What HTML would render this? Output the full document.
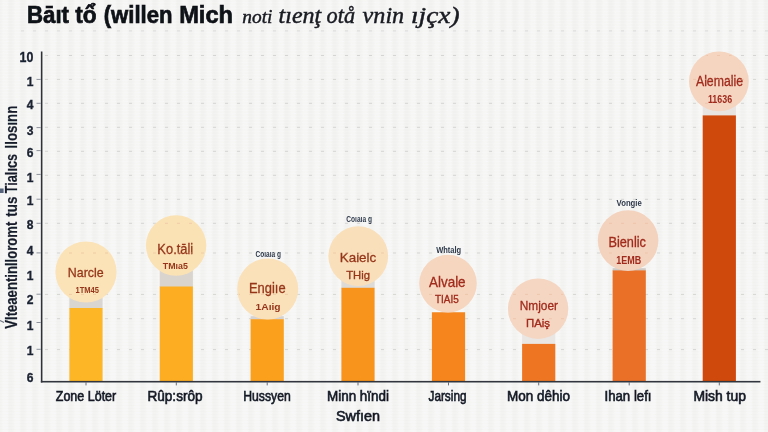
<!DOCTYPE html>
<html><head><meta charset="utf-8"><title>chart</title>
<style>
html,body{margin:0;padding:0;}
body{width:768px;height:432px;overflow:hidden;background:#f4f4f3;font-family:"Liberation Sans",sans-serif;}
#bg{position:absolute;left:0;top:0;width:768px;height:432px;
background:
repeating-linear-gradient(90deg, rgba(0,0,0,0.008) 0px, rgba(0,0,0,0.008) 2.5px, rgba(255,255,255,0.24) 6px, rgba(255,255,255,0.24) 9.5px, rgba(0,0,0,0.008) 12px),
repeating-linear-gradient(0deg, rgba(255,255,255,0.12) 0px, rgba(255,255,255,0.12) 1.5px, rgba(0,0,0,0.004) 1.5px, rgba(0,0,0,0.004) 3px),
#f4f4f3;background-position:9.25px 0,0 0,0 0;}
svg{position:absolute;left:0;top:0;}
text{font-family:"Liberation Sans",sans-serif;}
.ser{font-family:"Liberation Serif",serif;font-style:italic;}
</style></head><body><div id="bg"></div>
<svg width="768" height="432" viewBox="0 0 768 432">
<defs><filter id="soft" x="-5%" y="-5%" width="110%" height="110%"><feGaussianBlur stdDeviation="0.5"/></filter></defs>
<g filter="url(#soft)">
<line x1="21" y1="30.9" x2="768" y2="30.9" stroke="#dcdcda" stroke-width="1" stroke-dasharray="3 9"/>
<line x1="45" y1="55.5" x2="768" y2="55.5" stroke="#d5d5d3" stroke-width="1" stroke-dasharray="3 9"/>
<line x1="45" y1="79.4" x2="768" y2="79.4" stroke="#d5d5d3" stroke-width="1" stroke-dasharray="3 9"/>
<line x1="45" y1="103.3" x2="768" y2="103.3" stroke="#d5d5d3" stroke-width="1" stroke-dasharray="3 9"/>
<line x1="45" y1="127.3" x2="768" y2="127.3" stroke="#d5d5d3" stroke-width="1" stroke-dasharray="3 9"/>
<line x1="45" y1="151.3" x2="768" y2="151.3" stroke="#d5d5d3" stroke-width="1" stroke-dasharray="3 9"/>
<line x1="45" y1="175.3" x2="768" y2="175.3" stroke="#d5d5d3" stroke-width="1" stroke-dasharray="3 9"/>
<line x1="45" y1="199.3" x2="768" y2="199.3" stroke="#d5d5d3" stroke-width="1" stroke-dasharray="3 9"/>
<line x1="45" y1="223.3" x2="768" y2="223.3" stroke="#d5d5d3" stroke-width="1" stroke-dasharray="3 9"/>
<line x1="45" y1="253" x2="768" y2="253" stroke="#d5d5d3" stroke-width="1" stroke-dasharray="3 9"/>
<line x1="45" y1="294.4" x2="768" y2="294.4" stroke="#d5d5d3" stroke-width="1" stroke-dasharray="3 9"/>
<line x1="45" y1="318.7" x2="768" y2="318.7" stroke="#d5d5d3" stroke-width="1" stroke-dasharray="3 9"/>
<line x1="45" y1="349.6" x2="768" y2="349.6" stroke="#d5d5d3" stroke-width="1" stroke-dasharray="3 9"/>
<rect x="69.40" y="272.00" width="33.2" height="36.50" fill="#d9d5d0"/>
<rect x="69.40" y="308.00" width="33.2" height="73.80" fill="#fdb726"/>
<rect x="159.70" y="245.50" width="33.2" height="41.50" fill="#d9d4ce"/>
<rect x="159.70" y="286.50" width="33.2" height="95.30" fill="#fcad20"/>
<rect x="250.60" y="316.20" width="33.2" height="3.50" fill="#d6d2cf"/>
<rect x="250.60" y="319.20" width="33.2" height="62.60" fill="#fba01d"/>
<rect x="341.40" y="256.10" width="33.2" height="32.20" fill="#dedad5"/>
<rect x="341.40" y="287.80" width="33.2" height="94.00" fill="#f8931c"/>
<rect x="431.90" y="312.30" width="33.2" height="0.50" fill="#e4d0c4"/>
<rect x="431.90" y="312.30" width="33.2" height="69.50" fill="#f5851b"/>
<rect x="522.10" y="308.70" width="33.2" height="35.70" fill="#e9e6e3"/>
<rect x="522.10" y="343.90" width="33.2" height="37.90" fill="#ee7623"/>
<rect x="612.60" y="268.20" width="33.2" height="2.70" fill="#cfcac5"/>
<rect x="612.60" y="270.40" width="33.2" height="111.40" fill="#e96f27"/>
<rect x="702.70" y="81.40" width="33.2" height="34.50" fill="#e7e4e1"/>
<rect x="702.70" y="115.40" width="33.2" height="266.40" fill="#cf4a0a"/>
<rect x="40.85" y="51.5" width="1.6" height="331.00" fill="#2e3138"/>
<rect x="40.85" y="380.90" width="719.6" height="1.6" fill="#33363c"/>
<rect x="85.50" y="382.00" width="1" height="3.4" fill="#6a6f7a"/>
<rect x="175.80" y="382.00" width="1" height="3.4" fill="#6a6f7a"/>
<rect x="266.70" y="382.00" width="1" height="3.4" fill="#6a6f7a"/>
<rect x="357.50" y="382.00" width="1" height="3.4" fill="#6a6f7a"/>
<rect x="448.00" y="382.00" width="1" height="3.4" fill="#6a6f7a"/>
<rect x="538.20" y="382.00" width="1" height="3.4" fill="#6a6f7a"/>
<rect x="628.70" y="382.00" width="1" height="3.4" fill="#6a6f7a"/>
<rect x="718.80" y="382.00" width="1" height="3.4" fill="#6a6f7a"/>
<rect x="36.5" y="78.90" width="4.3" height="1" fill="#8e929c"/>
<rect x="36.5" y="102.80" width="4.3" height="1" fill="#8e929c"/>
<rect x="36.5" y="127.10" width="4.3" height="1" fill="#8e929c"/>
<rect x="36.5" y="150.10" width="4.3" height="1" fill="#8e929c"/>
<rect x="36.5" y="173.90" width="4.3" height="1" fill="#8e929c"/>
<rect x="36.5" y="198.70" width="4.3" height="1" fill="#8e929c"/>
<rect x="36.5" y="222.80" width="4.3" height="1" fill="#8e929c"/>
<rect x="36.5" y="252.40" width="4.3" height="1" fill="#8e929c"/>
<rect x="36.5" y="293.70" width="4.3" height="1" fill="#8e929c"/>
<rect x="36.5" y="322.00" width="4.3" height="1" fill="#8e929c"/>
<rect x="36.5" y="348.80" width="4.3" height="1" fill="#8e929c"/>
<circle cx="86.0" cy="272" r="30.6" fill="#fbe3b7"/>
<text x="85.7" y="277.0" text-anchor="middle" font-size="13.2" fill="#96361a" stroke="#96361a" stroke-width="0.3" textLength="35.8" lengthAdjust="spacingAndGlyphs">Narcle</text>
<text x="87.2" y="292.8" text-anchor="middle" font-size="9.6" font-weight="bold" fill="#96361a" textLength="23.5" lengthAdjust="spacingAndGlyphs">1TM45</text>
<circle cx="176.1" cy="245.5" r="30.2" fill="#fbe2b5"/>
<text x="175.3" y="253.8" text-anchor="middle" font-size="14.5" fill="#96361a" stroke="#96361a" stroke-width="0.3" textLength="35.9" lengthAdjust="spacingAndGlyphs">Ko.tāli</text>
<text x="175.3" y="269.4" text-anchor="middle" font-size="9.7" font-weight="bold" fill="#96361a" textLength="25" lengthAdjust="spacingAndGlyphs">TMıa5</text>
<circle cx="267.7" cy="289" r="30.5" fill="#fae1b9"/>
<text x="267.3" y="293.0" text-anchor="middle" font-size="13.8" fill="#96361a" stroke="#96361a" stroke-width="0.3" textLength="36.6" lengthAdjust="spacingAndGlyphs">Engiıe</text>
<text x="268.1" y="310.0" text-anchor="middle" font-size="9.6" font-weight="bold" fill="#96361a" textLength="25" lengthAdjust="spacingAndGlyphs">1Aıig</text>
<text x="268.3" y="257.2" text-anchor="middle" font-size="8.2" font-weight="bold" fill="#2f3a4a" textLength="25.4" lengthAdjust="spacingAndGlyphs">Coıaıa g</text>
<circle cx="358.25" cy="256.1" r="29.9" fill="#f9e0bb"/>
<text x="358.0" y="261.5" text-anchor="middle" font-size="13.5" fill="#96361a" stroke="#96361a" stroke-width="0.3" textLength="36.5" lengthAdjust="spacingAndGlyphs">Kaielc</text>
<text x="358.1" y="278.8" text-anchor="middle" font-size="11" fill="#96361a" stroke="#96361a" stroke-width="0.35" textLength="23.7" lengthAdjust="spacingAndGlyphs">THig</text>
<text x="359.1" y="221.8" text-anchor="middle" font-size="8.5" font-weight="bold" fill="#2f3a4a" textLength="25.6" lengthAdjust="spacingAndGlyphs">Coıaıa g</text>
<circle cx="448.0" cy="283.6" r="28.8" fill="#f6d6bf"/>
<text x="447.3" y="287.3" text-anchor="middle" font-size="14.2" fill="#a02a1c" stroke="#a02a1c" stroke-width="0.3" textLength="36.6" lengthAdjust="spacingAndGlyphs">Alvale</text>
<text x="446.9" y="303.1" text-anchor="middle" font-size="10.8" fill="#a02a1c" stroke="#a02a1c" stroke-width="0.35" textLength="23.7" lengthAdjust="spacingAndGlyphs">TIAI5</text>
<text x="448.7" y="253.2" text-anchor="middle" font-size="8.8" font-weight="bold" fill="#2f3a4a" textLength="25" lengthAdjust="spacingAndGlyphs">Whtalg</text>
<circle cx="538.1" cy="308.7" r="30.2" fill="#f5d6c2"/>
<text x="538.9" y="310.0" text-anchor="middle" font-size="13.2" fill="#a02a1c" stroke="#a02a1c" stroke-width="0.3" textLength="38.3" lengthAdjust="spacingAndGlyphs">Nmjoer</text>
<text x="538.0" y="326.9" text-anchor="middle" font-size="10.8" fill="#a02a1c" stroke="#a02a1c" stroke-width="0.35" textLength="24.1" lengthAdjust="spacingAndGlyphs">ΠAiş</text>
<circle cx="628.1" cy="240.6" r="30.3" fill="#f4d3be"/>
<text x="627.2" y="247.2" text-anchor="middle" font-size="13.8" fill="#a02a1c" stroke="#a02a1c" stroke-width="0.3" textLength="37.5" lengthAdjust="spacingAndGlyphs">Bienlic</text>
<text x="628.7" y="263.5" text-anchor="middle" font-size="10.2" font-weight="bold" fill="#a02a1c" textLength="25" lengthAdjust="spacingAndGlyphs">1EMB</text>
<text x="629.2" y="206.3" text-anchor="middle" font-size="9" font-weight="bold" fill="#2f3a4a" textLength="25.2" lengthAdjust="spacingAndGlyphs">Vongie</text>
<circle cx="718.9" cy="81.4" r="29.9" fill="#f5d5c0"/>
<text x="719.5" y="85.6" text-anchor="middle" font-size="14" fill="#a02a1c" stroke="#a02a1c" stroke-width="0.3" textLength="47.1" lengthAdjust="spacingAndGlyphs">Alemalie</text>
<text x="720.0" y="103.2" text-anchor="middle" font-size="10" font-weight="bold" fill="#a02a1c" textLength="24.2" lengthAdjust="spacingAndGlyphs">11636</text>
<clipPath id="cc"><circle cx="86.0" cy="272" r="29.6"/><circle cx="176.1" cy="245.5" r="29.2"/><circle cx="267.7" cy="289" r="29.5"/><circle cx="358.25" cy="256.1" r="28.9"/><circle cx="448.0" cy="283.6" r="27.8"/><circle cx="538.1" cy="308.7" r="29.2"/><circle cx="628.1" cy="240.6" r="29.3"/><circle cx="718.9" cy="81.4" r="28.9"/></clipPath>
<g clip-path="url(#cc)"><line x1="45" y1="55.5" x2="768" y2="55.5" stroke="#e8b99a" stroke-opacity="0.55" stroke-width="1" stroke-dasharray="3 9"/><line x1="45" y1="79.4" x2="768" y2="79.4" stroke="#e8b99a" stroke-opacity="0.55" stroke-width="1" stroke-dasharray="3 9"/><line x1="45" y1="103.3" x2="768" y2="103.3" stroke="#e8b99a" stroke-opacity="0.55" stroke-width="1" stroke-dasharray="3 9"/><line x1="45" y1="127.3" x2="768" y2="127.3" stroke="#e8b99a" stroke-opacity="0.55" stroke-width="1" stroke-dasharray="3 9"/><line x1="45" y1="151.3" x2="768" y2="151.3" stroke="#e8b99a" stroke-opacity="0.55" stroke-width="1" stroke-dasharray="3 9"/><line x1="45" y1="175.3" x2="768" y2="175.3" stroke="#e8b99a" stroke-opacity="0.55" stroke-width="1" stroke-dasharray="3 9"/><line x1="45" y1="199.3" x2="768" y2="199.3" stroke="#e8b99a" stroke-opacity="0.55" stroke-width="1" stroke-dasharray="3 9"/><line x1="45" y1="223.3" x2="768" y2="223.3" stroke="#e8b99a" stroke-opacity="0.55" stroke-width="1" stroke-dasharray="3 9"/><line x1="45" y1="253" x2="768" y2="253" stroke="#e8b99a" stroke-opacity="0.55" stroke-width="1" stroke-dasharray="3 9"/><line x1="45" y1="294.4" x2="768" y2="294.4" stroke="#e8b99a" stroke-opacity="0.55" stroke-width="1" stroke-dasharray="3 9"/><line x1="45" y1="318.7" x2="768" y2="318.7" stroke="#e8b99a" stroke-opacity="0.55" stroke-width="1" stroke-dasharray="3 9"/><line x1="45" y1="349.6" x2="768" y2="349.6" stroke="#e8b99a" stroke-opacity="0.55" stroke-width="1" stroke-dasharray="3 9"/></g>
<text x="33.4" y="62.33" text-anchor="end" font-size="13.8" font-weight="bold" fill="#1a2130" stroke="#1a2130" stroke-width="0.35" textLength="13.8" lengthAdjust="spacingAndGlyphs">10</text>
<text x="33.4" y="85.90" text-anchor="end" font-size="12.9" font-weight="bold" fill="#1a2130" stroke="#1a2130" stroke-width="0.35" textLength="6.7" lengthAdjust="spacingAndGlyphs">1</text>
<text x="33.4" y="108.90" text-anchor="end" font-size="12.9" font-weight="bold" fill="#1a2130" stroke="#1a2130" stroke-width="0.35" textLength="6.7" lengthAdjust="spacingAndGlyphs">4</text>
<text x="33.4" y="134.50" text-anchor="end" font-size="12.9" font-weight="bold" fill="#1a2130" stroke="#1a2130" stroke-width="0.35" textLength="6.7" lengthAdjust="spacingAndGlyphs">3</text>
<text x="33.4" y="157.40" text-anchor="end" font-size="12.9" font-weight="bold" fill="#1a2130" stroke="#1a2130" stroke-width="0.35" textLength="6.7" lengthAdjust="spacingAndGlyphs">6</text>
<text x="33.4" y="182.10" text-anchor="end" font-size="12.9" font-weight="bold" fill="#1a2130" stroke="#1a2130" stroke-width="0.35" textLength="6.7" lengthAdjust="spacingAndGlyphs">1</text>
<text x="33.4" y="205.40" text-anchor="end" font-size="12.9" font-weight="bold" fill="#1a2130" stroke="#1a2130" stroke-width="0.35" textLength="6.7" lengthAdjust="spacingAndGlyphs">1</text>
<text x="33.4" y="228.80" text-anchor="end" font-size="12.9" font-weight="bold" fill="#1a2130" stroke="#1a2130" stroke-width="0.35" textLength="6.7" lengthAdjust="spacingAndGlyphs">8</text>
<text x="33.4" y="254.70" text-anchor="end" font-size="12.9" font-weight="bold" fill="#1a2130" stroke="#1a2130" stroke-width="0.35" textLength="6.7" lengthAdjust="spacingAndGlyphs">4</text>
<text x="33.4" y="279.60" text-anchor="end" font-size="12.9" font-weight="bold" fill="#1a2130" stroke="#1a2130" stroke-width="0.35" textLength="6.7" lengthAdjust="spacingAndGlyphs">1</text>
<text x="33.4" y="304.00" text-anchor="end" font-size="12.9" font-weight="bold" fill="#1a2130" stroke="#1a2130" stroke-width="0.35" textLength="6.7" lengthAdjust="spacingAndGlyphs">2</text>
<text x="33.4" y="329.70" text-anchor="end" font-size="12.9" font-weight="bold" fill="#1a2130" stroke="#1a2130" stroke-width="0.35" textLength="6.7" lengthAdjust="spacingAndGlyphs">1</text>
<text x="33.4" y="355.30" text-anchor="end" font-size="12.9" font-weight="bold" fill="#1a2130" stroke="#1a2130" stroke-width="0.35" textLength="6.7" lengthAdjust="spacingAndGlyphs">1</text>
<text x="33.4" y="382.00" text-anchor="end" font-size="12.9" font-weight="bold" fill="#1a2130" stroke="#1a2130" stroke-width="0.35" textLength="6.7" lengthAdjust="spacingAndGlyphs">6</text>
<text transform="translate(16.5,329) rotate(-90)" x="0.3" y="0" font-size="16.8" font-weight="bold" fill="#171e2c" stroke="#171e2c" stroke-width="0.2" textLength="107.0" lengthAdjust="spacingAndGlyphs">Vlteaentinlloromt</text>
<text transform="translate(16.5,329) rotate(-90)" x="112.3" y="0" font-size="16.8" font-weight="bold" fill="#171e2c" stroke="#171e2c" stroke-width="0.2" textLength="20.0" lengthAdjust="spacingAndGlyphs">tus</text>
<text transform="translate(16.5,329) rotate(-90)" x="135.8" y="0" font-size="16.8" font-weight="bold" fill="#171e2c" stroke="#171e2c" stroke-width="0.2" textLength="39.2" lengthAdjust="spacingAndGlyphs">Tialıcs</text>
<text transform="translate(16.5,329) rotate(-90)" x="180.5" y="0" font-size="16.8" font-weight="bold" fill="#171e2c" stroke="#171e2c" stroke-width="0.2" textLength="42.8" lengthAdjust="spacingAndGlyphs">llosınn</text>
<rect x="0" y="188.5" width="3.6" height="4.5" fill="#3a4a66" opacity="0.85"/>
<path d="M0 320.5 L4 322.5" stroke="#3a4050" stroke-width="1.2" opacity="0.7"/>
<text x="86" y="401" text-anchor="middle" font-size="14.2" fill="#141925" stroke="#141925" stroke-width="0.6" textLength="60.5" lengthAdjust="spacingAndGlyphs">Zone Löter</text>
<text x="175" y="401" text-anchor="middle" font-size="14.2" fill="#141925" stroke="#141925" stroke-width="0.6" textLength="55" lengthAdjust="spacingAndGlyphs">Rûp:srôp</text>
<text x="267" y="401.3" text-anchor="middle" font-size="14.2" fill="#141925" stroke="#141925" stroke-width="0.6" textLength="47.5" lengthAdjust="spacingAndGlyphs">Hussyen</text>
<text x="358" y="401" text-anchor="middle" font-size="14.2" fill="#141925" stroke="#141925" stroke-width="0.6" textLength="62" lengthAdjust="spacingAndGlyphs">Minn hïndi</text>
<text x="358" y="421" text-anchor="middle" font-size="14.2" fill="#141925" stroke="#141925" stroke-width="0.6" textLength="44" lengthAdjust="spacingAndGlyphs">Swfıen</text>
<text x="447.5" y="401" text-anchor="middle" font-size="14.2" fill="#141925" stroke="#141925" stroke-width="0.6" textLength="38" lengthAdjust="spacingAndGlyphs">Jarsing</text>
<text x="538.5" y="401" text-anchor="middle" font-size="14.2" fill="#141925" stroke="#141925" stroke-width="0.6" textLength="63" lengthAdjust="spacingAndGlyphs">Mon dêhio</text>
<text x="628" y="401" text-anchor="middle" font-size="14.2" fill="#141925" stroke="#141925" stroke-width="0.6" textLength="47" lengthAdjust="spacingAndGlyphs">Ihan lefı</text>
<text x="719.7" y="401" text-anchor="middle" font-size="14.2" fill="#141925" stroke="#141925" stroke-width="0.6" textLength="52.5" lengthAdjust="spacingAndGlyphs">Mish tup</text>
<text x="27.0" y="22.8" font-size="24.3" font-weight="bold" fill="#101217" stroke="#101217" stroke-width="0.7" textLength="42.0" lengthAdjust="spacingAndGlyphs">Bāıt</text>
<text x="75.2" y="22.8" font-size="24.3" font-weight="bold" fill="#101217" stroke="#101217" stroke-width="0.7" textLength="21.4" lengthAdjust="spacingAndGlyphs">tổ</text>
<text x="103.7" y="22.8" font-size="24.3" font-weight="bold" fill="#101217" stroke="#101217" stroke-width="0.7" textLength="68.8" lengthAdjust="spacingAndGlyphs">(willen</text>
<text x="179.2" y="22.8" font-size="24.3" font-weight="bold" fill="#101217" stroke="#101217" stroke-width="0.7" textLength="53.8" lengthAdjust="spacingAndGlyphs">Mich</text>
<text class="ser" x="242.3" y="22.9" font-size="19.5" fill="#191b22" stroke="#191b22" stroke-width="0.45" textLength="30.1" lengthAdjust="spacingAndGlyphs">noti</text>
<text class="ser" x="278.6" y="22.9" font-size="22.5" fill="#191b22" stroke="#191b22" stroke-width="0.45" textLength="42.6" lengthAdjust="spacingAndGlyphs">tıenţ</text>
<text class="ser" x="326.6" y="22.9" font-size="22.5" fill="#191b22" stroke="#191b22" stroke-width="0.45" textLength="28.5" lengthAdjust="spacingAndGlyphs">otå</text>
<text class="ser" x="362.6" y="22.9" font-size="23.5" fill="#191b22" stroke="#191b22" stroke-width="0.45" textLength="41.6" lengthAdjust="spacingAndGlyphs">vnin</text>
<text class="ser" x="411.0" y="22.9" font-size="22.5" fill="#191b22" stroke="#191b22" stroke-width="0.45" textLength="48.6" lengthAdjust="spacingAndGlyphs">ıjçx)</text>
</g></svg></body></html>
